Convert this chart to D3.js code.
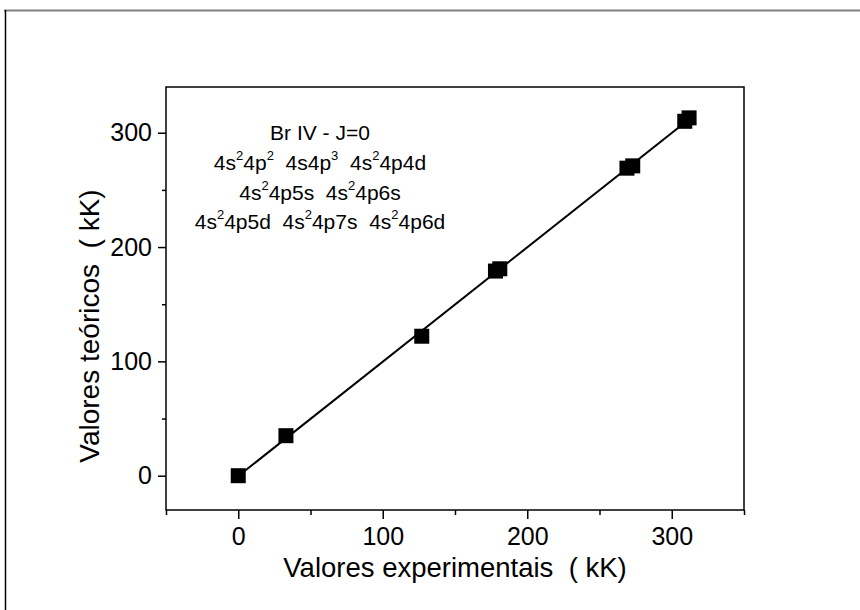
<!DOCTYPE html>
<html lang="en">
<head>
    <meta charset="UTF-8">
    <title>Br IV - J=0</title>
    <script src="https://cdn.jsdelivr.net/npm/d3@7"></script>
    <style>
        html, body {
            margin: 0;
            padding: 0;
            width: 100%;
            height: 100%;
            overflow: hidden;
            background: #fff;
        }
        text {
            font-family: Arial, "Liberation Sans", sans-serif;
            fill: #000;
        }
    </style>
</head>
<body>
</body>
<script>
    let width = 860;
    let height = 610;

    // experimental vs theoretical energies (kK)
    let experimental = [0, 33, 127, 178, 181, 269, 273, 309, 312];
    let theoretical = [0, 35, 122, 179, 181, 269, 271, 310, 313];

    let xMajorTicks = [0, 100, 200, 300];
    let xMinorTicks = [-50, 50, 150, 250, 350];
    let yMajorTicks = [0, 100, 200, 300];
    let yMinorTicks = [50, 150, 250];

    // {n} = superscript
    let noteLines = [
        'Br IV - J=0',
        '4s{2}4p{2}  4s4p{3}  4s{2}4p4d',
        '4s{2}4p5s  4s{2}4p6s',
        '4s{2}4p5d  4s{2}4p7s  4s{2}4p6d'
    ];

    let plot = {left: 166, right: 744, top: 87, bottom: 510};

    let x = d3.scaleLinear().domain([-50, 350]).range([plot.left, plot.right]);
    let y = d3.scaleLinear().domain([-30, 340]).range([plot.bottom, plot.top]);

    let svg = d3.select('body').append('svg')
        .attr('width', width)
        .attr('height', height);

    // page frame
    svg.append('line')
        .attr('x1', 4).attr('x2', width)
        .attr('y1', 10.5).attr('y2', 10.5)
        .attr('stroke', '#808080').attr('stroke-width', 2);
    svg.append('line')
        .attr('x1', 5.5).attr('x2', 5.5)
        .attr('y1', 10).attr('y2', height)
        .attr('stroke', '#000').attr('stroke-width', 1.5);

    // plot box
    svg.append('rect')
        .attr('x', plot.left).attr('y', plot.top)
        .attr('width', plot.right - plot.left)
        .attr('height', plot.bottom - plot.top)
        .attr('fill', 'none')
        .attr('stroke', '#000')
        .attr('stroke-width', 1.5);

    function styleAxis(g) {
        g.select('.domain').remove();
        g.selectAll('.tick line').attr('stroke', '#000').attr('stroke-width', 1.5);
        g.selectAll('.tick text')
            .style('font-family', 'Arial, "Liberation Sans", sans-serif')
            .attr('font-size', 25)
            .attr('fill', '#000');
    }

    // x axis
    svg.append('g')
        .attr('transform', `translate(0, ${plot.bottom})`)
        .call(d3.axisBottom(x).tickValues(xMajorTicks).tickSize(9).tickPadding(8))
        .call(styleAxis);
    svg.append('g')
        .attr('transform', `translate(0, ${plot.bottom})`)
        .call(d3.axisBottom(x).tickValues(xMinorTicks).tickSize(5).tickFormat(''))
        .call(styleAxis);

    // y axis
    svg.append('g')
        .attr('transform', `translate(${plot.left}, 0)`)
        .call(d3.axisLeft(y).tickValues(yMajorTicks).tickSize(8).tickPadding(6))
        .call(styleAxis);
    svg.append('g')
        .attr('transform', `translate(${plot.left}, 0)`)
        .call(d3.axisLeft(y).tickValues(yMinorTicks).tickSize(4).tickFormat(''))
        .call(styleAxis);

    // axis titles
    svg.append('text')
        .attr('x', (plot.left + plot.right) / 2)
        .attr('y', 577)
        .attr('text-anchor', 'middle')
        .attr('font-size', 27.5)
        .style('white-space', 'pre')
        .text('Valores experimentais  ( kK)');

    svg.append('text')
        .attr('transform', 'translate(99, 326) rotate(-90)')
        .attr('text-anchor', 'middle')
        .attr('font-size', 28)
        .style('white-space', 'pre')
        .text('Valores teóricos  ( kK)');

    // linear fit through the points
    let points = experimental.map((d, i) => ({x: d, y: theoretical[i]}));
    let mx = d3.mean(points, d => d.x);
    let my = d3.mean(points, d => d.y);
    let slope = d3.sum(points, d => (d.x - mx) * (d.y - my)) / d3.sum(points, d => (d.x - mx) * (d.x - mx));
    let icept = my - slope * mx;
    let fitX = d3.extent(experimental);

    svg.append('path')
        .datum(fitX.map(v => [v, icept + slope * v]))
        .attr('d', d3.line().x(d => x(d[0])).y(d => y(d[1])))
        .attr('fill', 'none')
        .attr('stroke', '#000')
        .attr('stroke-width', 2);

    let size = 15;
    svg.append('g')
        .selectAll('rect')
        .data(points)
        .enter().append('rect')
        .attr('x', d => x(d.x) - size / 2)
        .attr('y', d => y(d.y) - size / 2)
        .attr('width', size)
        .attr('height', size)
        .attr('fill', '#000');

    // annotation
    let note = svg.append('text')
        .attr('text-anchor', 'middle')
        .attr('font-size', 21)
        .style('white-space', 'pre');

    noteLines.forEach((line, i) => {
        let row = note.append('tspan')
            .attr('x', 320)
            .attr('y', 140 + i * 29.8);
        let shift = 0;
        line.split(/(\{\d\})/).filter(s => s.length).forEach(part => {
            if (part[0] === '{') {
                row.append('tspan')
                    .attr('dy', -10)
                    .attr('font-size', 13)
                    .text(part.slice(1, -1));
                shift = 10;
            } else {
                row.append('tspan').attr('dy', shift).text(part);
                shift = 0;
            }
        });
    });
</script>
</html>
